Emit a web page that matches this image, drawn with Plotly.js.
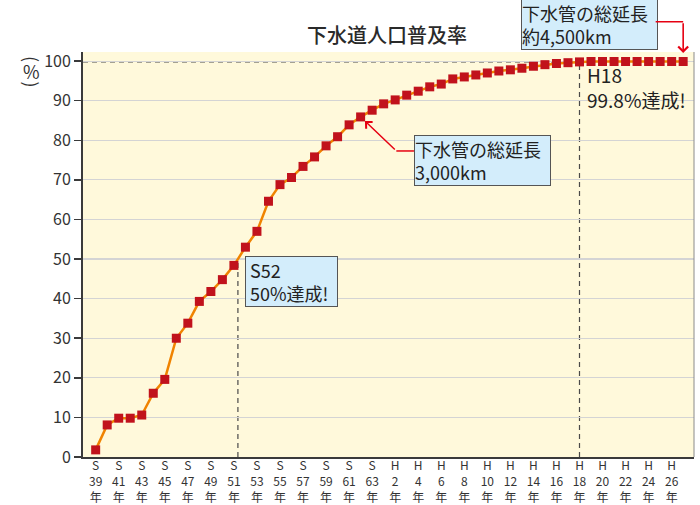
<!DOCTYPE html>
<html><head><meta charset="utf-8">
<script src="https://cdn.plot.ly/plotly-3.0.1.min.js"></script>
<style>html,body{margin:0;padding:0;background:#fff}#chart{width:700px;height:505px}</style>
</head><body><div id="chart"></div>
<script>
// 年度（西暦）
const years = [1964,1965,1966,1967,1968,1969,1970,1971,1972,1973,1974,1975,1976,1977,1978,1979,1980,1981,1982,1983,1984,1985,1986,1987,1988,1989,1990,1991,1992,1993,1994,1995,1996,1997,1998,1999,2000,2001,2002,2003,2004,2005,2006,2007,2008,2009,2010,2011,2012,2013,2014,2015];
// 下水道人口普及率（%）
const rates = [1.8,8.1,9.8,9.8,10.6,16.1,19.6,30.0,33.8,39.3,41.8,44.8,48.4,53.0,57.0,64.6,68.8,70.6,73.4,75.8,78.6,80.9,83.9,85.9,87.6,89.2,90.2,91.4,92.4,93.5,94.2,95.5,96.0,96.5,97.0,97.5,97.8,98.2,98.7,99.1,99.4,99.6,99.8,99.9,99.9,99.9,99.9,99.9,99.9,99.9,99.9,99.9];
// x軸目盛
const tickYears = [1964,1966,1968,1970,1972,1974,1976,1978,1980,1982,1984,1986,1988,1990,1992,1994,1996,1998,2000,2002,2004,2006,2008,2010,2012,2014];
const tickLabels = ["S<br>39<br>年","S<br>41<br>年","S<br>43<br>年","S<br>45<br>年","S<br>47<br>年","S<br>49<br>年","S<br>51<br>年","S<br>53<br>年","S<br>55<br>年","S<br>57<br>年","S<br>59<br>年","S<br>61<br>年","S<br>63<br>年","H<br>2<br>年","H<br>4<br>年","H<br>6<br>年","H<br>8<br>年","H<br>10<br>年","H<br>12<br>年","H<br>14<br>年","H<br>16<br>年","H<br>18<br>年","H<br>20<br>年","H<br>22<br>年","H<br>24<br>年","H<br>26<br>年"];
const yTicks = [0,10,20,30,40,50,60,70,80,90,100];
// 注記
const half = 50;
const fullYear = 2006, fullRate = 99.8;
const len3000Year = 1987, len4500Year = 2015;

const FONT = '"Noto Sans CJK JP", "Noto Sans", sans-serif';
const X0 = 1962.9, X1 = 2015.94;
const W = 700, H = 505, ML = 83, MR = 6, MT = 52, MB = 48;
const pxX = p => (p - ML) / (W - ML - MR);   // pixel -> paper x
const pxY = p => (H - MB - p) / (H - MT - MB); // pixel -> paper y

// crossing of 50% by linear interpolation between data points
let halfX = years[0];
for (let i = 1; i < rates.length; i++) {
  if (rates[i - 1] < half && rates[i] >= half) {
    halfX = years[i - 1] + (half - rates[i - 1]) / (rates[i] - rates[i - 1]);
    break;
  }
}
const idx3000 = years.indexOf(len3000Year);
const idx4500 = years.indexOf(len4500Year);
const tipX = (len4500Year - X0) / (X1 - X0);

const trace = {
  x: years, y: rates, type: 'scatter', mode: 'lines+markers',
  line: {color: '#F08300', width: 2.5},
  marker: {symbol: 'square', size: 9, color: '#C1121C'},
  hoverinfo: 'x+y', cliponaxis: false
};

const dash = {color: '#4a4a4a', width: 1.2, dash: '5px,4px'};
const red = '#E60012';
const txt = {family: FONT, size: 18, color: '#222'};

const layout = {
  width: W, height: H,
  margin: {l: ML, r: MR, t: MT, b: MB, pad: 0},
  paper_bgcolor: '#ffffff',
  plot_bgcolor: '#FFF9DB',
  showlegend: false,
  font: {family: FONT, color: '#333'},
  title: {text: '下水道人口普及率', x: 0.553, xanchor: 'center', y: 1 - 36 / 505, yanchor: 'middle',
          font: {family: FONT, size: 20, color: '#2a2a2a', weight: 500}},
  xaxis: {
    range: [X0, X1], tickmode: 'array', tickvals: tickYears, ticktext: tickLabels,
    showgrid: false, zeroline: false, showline: true, linecolor: '#3a3a3a', linewidth: 2,
    ticks: '', ticklabelstandoff: -3, tickfont: {family: FONT, size: 12, color: '#333'}, fixedrange: true
  },
  yaxis: {
    range: [0, 102.3], tickmode: 'array', tickvals: yTicks,
    showgrid: true, gridcolor: '#d4d4d4', gridwidth: 1.2, zeroline: false,
    showline: true, linecolor: '#3a3a3a', linewidth: 2,
    ticks: 'outside', ticklen: 7, tickwidth: 1.5, tickcolor: '#3a3a3a',
    tickfont: {family: FONT, size: 16, color: '#333'}, fixedrange: true
  },
  shapes: [
    {type: 'line', xref: 'x', yref: 'y', x0: X0, x1: halfX, y0: half, y1: half, line: dash, layer: 'below'},
    {type: 'line', xref: 'x', yref: 'y', x0: halfX, x1: halfX, y0: 0, y1: half, line: dash, layer: 'below'},
    {type: 'line', xref: 'x', yref: 'y', x0: X0, x1: fullYear, y0: fullRate, y1: fullRate, line: dash, layer: 'below'},
    {type: 'line', xref: 'x', yref: 'y', x0: fullYear, x1: fullYear, y0: 0, y1: fullRate, line: dash, layer: 'below'},
    {type: 'line', xref: 'paper', yref: 'paper', x0: 1, x1: 1, y0: 0, y1: 1, line: {color: '#8a8a8a', width: 1}},
    {type: 'line', xref: 'x', yref: 'y', x0: 1990.1, x1: 1991.63, y0: 77.3, y1: 77.3, line: {color: red, width: 1.5}}
  ],
  annotations: [
    // y axis title (vertical)
    {xref: 'paper', yref: 'paper', x: -0.0835, y: 0.983, xanchor: 'center', yanchor: 'middle', text: '(', textangle: 90, showarrow: false, font: {family: FONT, size: 18, color: '#333'}},
    {xref: 'paper', yref: 'paper', x: -0.0835, y: 0.952, xanchor: 'center', yanchor: 'middle', text: '%', showarrow: false, font: {family: FONT, size: 18, color: '#333'}},
    {xref: 'paper', yref: 'paper', x: -0.0835, y: 0.920, xanchor: 'center', yanchor: 'middle', text: ')', textangle: 90, showarrow: false, font: {family: FONT, size: 18, color: '#333'}},
    // S52 box
    {xref: 'x', yref: 'y', x: 1976.96, y: 44.35, xanchor: 'left', yanchor: 'middle', align: 'left',
     text: '\u00a0S52<br>\u00a050%達成!', showarrow: false, width: 91,
     bgcolor: '#D3EDFB', bordercolor: '#555', borderwidth: 1, borderpad: 0, font: txt},
    // H18 text
    {xref: 'x', yref: 'y', x: fullYear, xshift: 5, y: 93.5, xanchor: 'left', yanchor: 'middle', align: 'left',
     text: 'H18<br>99.8%達成!', showarrow: false, font: {family: FONT, size: 19, color: '#222'}},
    // 3,000km box
    {xref: 'x', yref: 'y', x: 1991.63, y: 74.9, xanchor: 'left', yanchor: 'middle', align: 'left',
     text: '下水管の総延長<br>3,000km', showarrow: false, width: 135,
     bgcolor: '#D3EDFB', bordercolor: '#555', borderwidth: 1, borderpad: 0, font: txt},
    // 4,500km box (paper coords)
    {xref: 'paper', yref: 'paper', x: pxX(520.5), y: pxY(24.5), xanchor: 'left', yanchor: 'middle', align: 'left',
     text: '下水管の総延長<br>約4,500km', showarrow: false, width: 135,
     bgcolor: '#D3EDFB', bordercolor: '#555', borderwidth: 1, borderpad: 0, font: txt},
    // leader lines and arrows (paper coords for the one above the plot)
    {xref: 'paper', yref: 'paper', x: tipX, y: pxY(21.7), axref: 'pixel', ayref: 'pixel', ax: -29, ay: 0,
     text: '', showarrow: true, arrowhead: 0, arrowwidth: 1.6, arrowcolor: red, standoff: 0, startstandoff: 0},
    {xref: 'paper', yref: 'paper', x: tipX, y: pxY(53), axref: 'pixel', ayref: 'pixel', ax: 0, ay: -31.3,
     text: '', showarrow: true, arrowhead: 4, arrowsize: 1.2, arrowwidth: 1.6, arrowcolor: red, standoff: 0, startstandoff: 0},
    {xref: 'x', yref: 'y', x: years[idx3000], y: rates[idx3000], axref: 'x', ayref: 'y', ax: 1990.1, ay: 77.3,
     text: '', showarrow: true, arrowhead: 4, arrowsize: 1.2, arrowwidth: 1.5, arrowcolor: red, standoff: 6, startstandoff: 0}
  ]
};

Plotly.newPlot('chart', [trace], layout, {displayModeBar: false, staticPlot: true});
</script>
</body></html>
